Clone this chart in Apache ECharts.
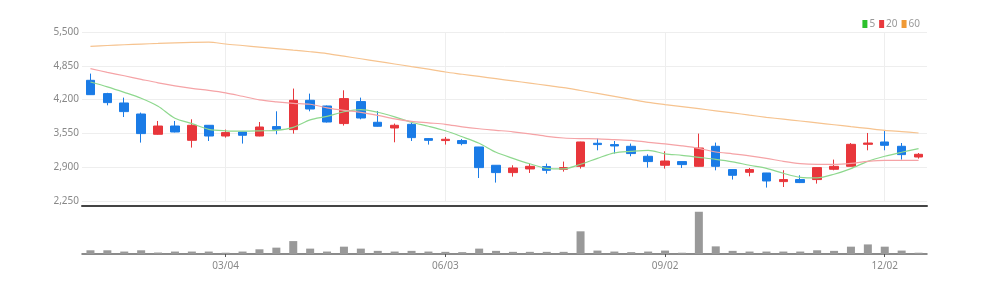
<!DOCTYPE html>
<html>
<head>
<meta charset="utf-8">
<script src="https://cdn.jsdelivr.net/npm/echarts@6/dist/echarts.min.js"></script>
<style>
html,body{margin:0;padding:0;background:#fff;}
#chart{width:987px;height:286px;}
</style>
</head>
<body>
<div id="chart"></div>
<script>
const dates = ["01/07","01/14","01/21","01/28","02/04","02/11","02/18","02/25","03/04","03/11",
"03/18","03/25","04/01","04/08","04/15","04/22","04/29","05/06","05/13","05/20",
"05/27","06/03","06/10","06/17","06/24","07/01","07/08","07/15","07/22","07/29",
"08/05","08/12","08/19","08/26","09/02","09/09","09/16","09/23","09/30","10/07",
"10/14","10/21","10/28","11/04","11/11","11/18","11/25","12/02","12/09","12/16"];
const labelDates = ["03/04","06/03","09/02","12/02"];
const yTicks = [2250, 2900, 3550, 4200, 4850, 5500];

const opens  = [4571,4315,4135,3923,3533,3692,3417,3706,3500,3577,3500,3681,3623,4187,4077,3739,4162,3764,3654,3725,3450,3412,3412,3289,2937,2796,2866,2912,2860,2917,3360,3335,3302,3110,2937,3008,2917,3302,2854,2802,2789,2623,2662,2662,2860,2917,3340,3385,3302,3096];
const closes = [4295,4142,3969,3546,3692,3577,3706,3500,3565,3514,3673,3629,4187,4019,3769,4219,3846,3687,3706,3469,3417,3437,3354,2892,2796,2885,2917,2840,2892,3385,3335,3308,3162,3008,3019,2950,3269,2917,2744,2854,2635,2662,2604,2892,2917,3340,3365,3321,3142,3148];
const lows   = [4290,4090,3865,3373,3525,3570,3277,3404,3469,3354,3495,3533,3546,3975,3760,3700,3821,3680,3379,3404,3335,3335,3321,2692,2604,2719,2789,2777,2815,2873,3225,3162,3110,2892,2873,2885,2910,2840,2662,2725,2508,2519,2595,2585,2840,2915,3225,3225,3046,3065];
const highs  = [4700,4330,4238,3950,3789,3789,3821,3710,3623,3580,3769,3975,4412,4315,4085,4379,4238,3981,3739,3758,3460,3481,3442,3290,2937,2937,2969,2969,3008,3390,3450,3404,3354,3148,3206,3010,3546,3373,2860,2885,2790,2841,2744,2895,3046,3365,3558,3596,3365,3173];

const ma5  = [4538,4446,4340,4225,4071,3840,3739,3629,3600,3594,3600,3610,3667,3811,3879,3966,4008,3956,3869,3764,3687,3600,3485,3360,3187,3071,2966,2879,2869,2956,3071,3177,3206,3225,3158,3129,3090,3052,3004,2937,2879,2783,2706,2696,2764,2873,3013,3110,3187,3257];
const ma20 = [4796,4725,4658,4590,4523,4465,4417,4379,4331,4264,4196,4158,4129,4110,4042,3994,3956,3898,3831,3783,3754,3725,3677,3639,3610,3581,3542,3494,3462,3450,3446,3431,3417,3379,3350,3311,3263,3192,3158,3119,3071,3013,2969,2956,2956,2975,3013,3033,3033,3033];
const ma60 = [5225,5240,5255,5268,5280,5292,5300,5305,5269,5240,5210,5180,5150,5120,5085,5035,4985,4935,4885,4835,4785,4731,4688,4645,4602,4560,4517,4474,4431,4375,4318,4262,4205,4148,4105,4065,4025,3985,3945,3900,3860,3824,3788,3752,3716,3680,3645,3610,3585,3558];

const volumes = [7600,7600,5000,7600,3000,5000,5000,5000,2600,5000,9600,13000,26400,11000,5000,15000,11000,6400,5000,6400,5000,4400,3800,11000,6400,4400,4400,4400,4400,46400,7000,5000,3800,5000,7000,2600,86400,15600,6400,5000,5000,5000,5000,7600,6400,15000,19600,15000,7000,2600];

const candleData = opens.map((o, i) => [o, closes[i], lows[i], highs[i]]);
const isLabel = (idx) => labelDates.indexOf(dates[idx]) >= 0;

const FONT = 'Noto Sans';
const chart = echarts.init(document.getElementById('chart'), null, {renderer: 'canvas'});
chart.setOption({
  animation: false,
  backgroundColor: '#fff',
  legend: {
    data: ['5', '20', '60'],
    right: 62, top: 14,
    icon: 'rect', itemWidth: 5, itemHeight: 8, itemGap: 4,
    textStyle: {fontSize: 10, color: '#999', fontFamily: FONT, padding: [0, 0, 0, -3]}
  },
  grid: [
    {left: 82, right: 60, top: 32, bottom: 85},
    {left: 82, right: 60, top: 210, bottom: 32}
  ],
  xAxis: [
    {
      type: 'category', data: dates, gridIndex: 0, boundaryGap: true, offset: 5,
      axisLine: {show: true, lineStyle: {color: '#444', width: 2}},
      axisTick: {show: false}, axisLabel: {show: false},
      splitLine: {show: true, alignWithLabel: true, interval: (i) => isLabel(i), lineStyle: {color: '#eee', width: 1}}
    },
    {
      type: 'category', data: dates, gridIndex: 1, boundaryGap: true,
      axisLine: {show: true, lineStyle: {color: '#666', width: 1.5}},
      axisTick: {show: true, alignWithLabel: true, interval: (i) => isLabel(i), length: 3, lineStyle: {color: '#555'}},
      axisLabel: {show: true, interval: (i) => isLabel(i), color: '#888', fontSize: 10, fontFamily: FONT, margin: 7},
      splitLine: {show: false}
    }
  ],
  yAxis: [
    {
      type: 'value', gridIndex: 0, min: yTicks[0], max: yTicks[yTicks.length - 1], interval: 650,
      axisLine: {show: false}, axisTick: {show: false},
      axisLabel: {color: '#888', fontSize: 10, fontFamily: FONT, margin: 3,
        formatter: (v) => v.toLocaleString('en-US')},
      splitLine: {show: true, lineStyle: {color: '#eee', width: 1}}
    },
    {
      type: 'value', gridIndex: 1, min: 0, max: 90000,
      axisLine: {show: false}, axisTick: {show: false}, axisLabel: {show: false},
      splitLine: {show: false}
    }
  ],
  series: [
    {
      type: 'candlestick', name: 'price', xAxisIndex: 0, yAxisIndex: 0,
      data: candleData, barWidth: 9,
      itemStyle: {color: '#e8363b', color0: '#1a7be6', borderColor: '#e8363b', borderColor0: '#1a7be6', borderWidth: 1}
    },
    {
      type: 'line', name: '5', data: ma5, xAxisIndex: 0, yAxisIndex: 0,
      smooth: 0.3, symbol: 'none', color: '#2cc12c',
      lineStyle: {color: '#8ed88e', width: 1.2}
    },
    {
      type: 'line', name: '20', data: ma20, xAxisIndex: 0, yAxisIndex: 0,
      smooth: 0.3, symbol: 'none', color: '#e8393d',
      lineStyle: {color: '#f5a3a6', width: 1.2}
    },
    {
      type: 'line', name: '60', data: ma60, xAxisIndex: 0, yAxisIndex: 0,
      smooth: 0.3, symbol: 'none', color: '#f09a36',
      lineStyle: {color: '#f6c38f', width: 1.2}
    },
    {
      type: 'bar', name: 'volume', data: volumes, xAxisIndex: 1, yAxisIndex: 1,
      barWidth: 8, itemStyle: {color: '#999'}
    }
  ]
});
</script>
</body>
</html>
